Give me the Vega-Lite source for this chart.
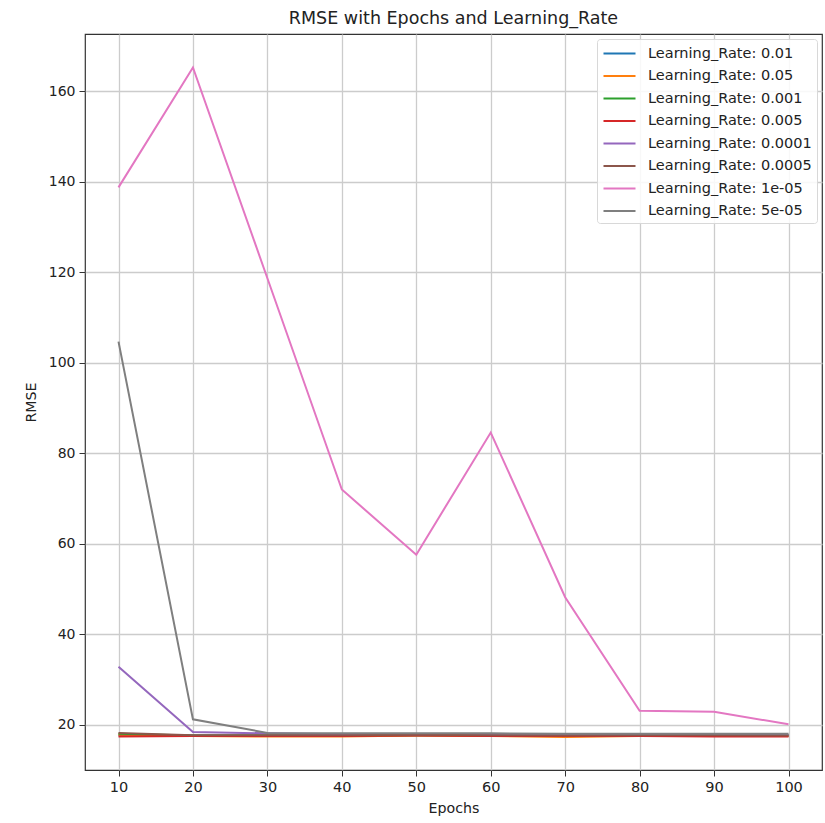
{
  "$schema": "https://vega.github.io/schema/vega-lite/v6.json",
  "autosize": "none",
  "width": 737,
  "height": 736,
  "padding": {"left": 85, "top": 34, "right": 3, "bottom": 53},
  "background": "white",
  "config": {
    "font": "DejaVu Sans",
    "view": {"stroke": "#333333", "strokeWidth": 1.2},
    "axis": {"labelFont": "DejaVu Sans", "titleFont": "DejaVu Sans", "labelFontSize": 14, "titleFontSize": 14.2, "labelColor": "#222222", "titleColor": "#222222", "titleFontWeight": "normal", "gridColor": "#cccccc", "gridWidth": 1.3, "tickColor": "#333333", "tickSize": 6, "domain": false, "labelPadding": 4}
  },
  "title": {"text": "RMSE with Epochs and Learning_Rate", "font": "DejaVu Sans", "fontSize": 17.5, "fontWeight": "normal", "color": "#222222", "offset": 7},
  "data": {"values": [
    {"epochs": 10, "lr": "0.01", "rmse": 17.7}, {"epochs": 20, "lr": "0.01", "rmse": 17.6}, {"epochs": 30, "lr": "0.01", "rmse": 17.6}, {"epochs": 40, "lr": "0.01", "rmse": 17.6}, {"epochs": 50, "lr": "0.01", "rmse": 17.7}, {"epochs": 60, "lr": "0.01", "rmse": 17.6}, {"epochs": 70, "lr": "0.01", "rmse": 17.6}, {"epochs": 80, "lr": "0.01", "rmse": 17.6}, {"epochs": 90, "lr": "0.01", "rmse": 17.6}, {"epochs": 100, "lr": "0.01", "rmse": 17.6},
    {"epochs": 10, "lr": "0.05", "rmse": 17.8}, {"epochs": 20, "lr": "0.05", "rmse": 17.5}, {"epochs": 30, "lr": "0.05", "rmse": 17.4}, {"epochs": 40, "lr": "0.05", "rmse": 17.4}, {"epochs": 50, "lr": "0.05", "rmse": 17.6}, {"epochs": 60, "lr": "0.05", "rmse": 17.5}, {"epochs": 70, "lr": "0.05", "rmse": 17.3}, {"epochs": 80, "lr": "0.05", "rmse": 17.5}, {"epochs": 90, "lr": "0.05", "rmse": 17.5}, {"epochs": 100, "lr": "0.05", "rmse": 17.5},
    {"epochs": 10, "lr": "0.001", "rmse": 18.0}, {"epochs": 20, "lr": "0.001", "rmse": 17.6}, {"epochs": 30, "lr": "0.001", "rmse": 17.6}, {"epochs": 40, "lr": "0.001", "rmse": 17.6}, {"epochs": 50, "lr": "0.001", "rmse": 17.7}, {"epochs": 60, "lr": "0.001", "rmse": 17.7}, {"epochs": 70, "lr": "0.001", "rmse": 17.6}, {"epochs": 80, "lr": "0.001", "rmse": 17.7}, {"epochs": 90, "lr": "0.001", "rmse": 17.7}, {"epochs": 100, "lr": "0.001", "rmse": 17.7},
    {"epochs": 10, "lr": "0.005", "rmse": 17.4}, {"epochs": 20, "lr": "0.005", "rmse": 17.5}, {"epochs": 30, "lr": "0.005", "rmse": 17.5}, {"epochs": 40, "lr": "0.005", "rmse": 17.5}, {"epochs": 50, "lr": "0.005", "rmse": 17.6}, {"epochs": 60, "lr": "0.005", "rmse": 17.5}, {"epochs": 70, "lr": "0.005", "rmse": 17.5}, {"epochs": 80, "lr": "0.005", "rmse": 17.5}, {"epochs": 90, "lr": "0.005", "rmse": 17.4}, {"epochs": 100, "lr": "0.005", "rmse": 17.4},
    {"epochs": 10, "lr": "0.0001", "rmse": 32.8}, {"epochs": 20, "lr": "0.0001", "rmse": 18.4}, {"epochs": 30, "lr": "0.0001", "rmse": 18.1}, {"epochs": 40, "lr": "0.0001", "rmse": 17.9}, {"epochs": 50, "lr": "0.0001", "rmse": 17.9}, {"epochs": 60, "lr": "0.0001", "rmse": 17.9}, {"epochs": 70, "lr": "0.0001", "rmse": 17.8}, {"epochs": 80, "lr": "0.0001", "rmse": 17.8}, {"epochs": 90, "lr": "0.0001", "rmse": 17.8}, {"epochs": 100, "lr": "0.0001", "rmse": 17.8},
    {"epochs": 10, "lr": "0.0005", "rmse": 18.2}, {"epochs": 20, "lr": "0.0005", "rmse": 17.7}, {"epochs": 30, "lr": "0.0005", "rmse": 17.7}, {"epochs": 40, "lr": "0.0005", "rmse": 17.7}, {"epochs": 50, "lr": "0.0005", "rmse": 17.8}, {"epochs": 60, "lr": "0.0005", "rmse": 17.7}, {"epochs": 70, "lr": "0.0005", "rmse": 17.6}, {"epochs": 80, "lr": "0.0005", "rmse": 17.7}, {"epochs": 90, "lr": "0.0005", "rmse": 17.7}, {"epochs": 100, "lr": "0.0005", "rmse": 17.6},
    {"epochs": 10, "lr": "1e-05", "rmse": 138.8}, {"epochs": 20, "lr": "1e-05", "rmse": 165.3}, {"epochs": 30, "lr": "1e-05", "rmse": 118.7}, {"epochs": 40, "lr": "1e-05", "rmse": 72.0}, {"epochs": 50, "lr": "1e-05", "rmse": 57.6}, {"epochs": 60, "lr": "1e-05", "rmse": 84.6}, {"epochs": 70, "lr": "1e-05", "rmse": 48.2}, {"epochs": 80, "lr": "1e-05", "rmse": 23.1}, {"epochs": 90, "lr": "1e-05", "rmse": 22.9}, {"epochs": 100, "lr": "1e-05", "rmse": 20.1},
    {"epochs": 10, "lr": "5e-05", "rmse": 104.7}, {"epochs": 20, "lr": "5e-05", "rmse": 21.2}, {"epochs": 30, "lr": "5e-05", "rmse": 18.2}, {"epochs": 40, "lr": "5e-05", "rmse": 18.1}, {"epochs": 50, "lr": "5e-05", "rmse": 18.1}, {"epochs": 60, "lr": "5e-05", "rmse": 18.1}, {"epochs": 70, "lr": "5e-05", "rmse": 18.0}, {"epochs": 80, "lr": "5e-05", "rmse": 18.0}, {"epochs": 90, "lr": "5e-05", "rmse": 18.0}, {"epochs": 100, "lr": "5e-05", "rmse": 18.0}
  ]},
  "mark": {"type": "line", "strokeWidth": 2, "clip": true},
  "encoding": {
    "x": {"field": "epochs", "type": "quantitative", "title": "Epochs", "scale": {"domain": [5.5, 104.5], "nice": false, "zero": false}, "axis": {"values": [10, 20, 30, 40, 50, 60, 70, 80, 90, 100], "labelFontSize": 14.5, "titlePadding": 8}},
    "y": {"field": "rmse", "type": "quantitative", "title": "RMSE", "scale": {"domain": [10.0, 172.7], "nice": false, "zero": false}, "axis": {"values": [20, 40, 60, 80, 100, 120, 140, 160], "titlePadding": 10}},
    "color": {"field": "lr", "type": "nominal", "sort": ["0.01", "0.05", "0.001", "0.005", "0.0001", "0.0005", "1e-05", "5e-05"],
      "scale": {"domain": ["0.01", "0.05", "0.001", "0.005", "0.0001", "0.0005", "1e-05", "5e-05"], "range": ["#1f77b4", "#ff7f0e", "#2ca02c", "#d62728", "#9467bd", "#8c564b", "#e377c2", "#7f7f7f"]},
      "legend": {"title": null, "orient": "top-right", "offset": 5, "labelExpr": "'Learning_Rate: ' + datum.label", "symbolType": "M-2,0H2", "symbolSize": 256, "symbolStrokeWidth": 2.2, "symbolOffset": 8, "labelFont": "DejaVu Sans", "labelFontSize": 14.5, "labelColor": "#222222", "fillColor": "rgba(255,255,255,0.85)", "strokeColor": "#d8d8d8", "cornerRadius": 3, "padding": 5, "rowPadding": 6.5, "labelOffset": 19, "labelLimit": 300}
    }
  }
}
